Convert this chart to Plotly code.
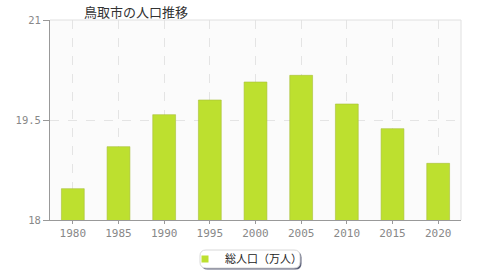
import plotly.graph_objects as go

years = ["1980", "1985", "1990", "1995", "2000", "2005", "2010", "2015", "2020"]
population = [18.47, 19.10, 19.58, 19.80, 20.07, 20.17, 19.74, 19.37, 18.85]
series_name = "総人口（万人）"
title_text = "鳥取市の人口推移"
y_ticks = [18, 19.5, 21]

W, H = 480, 280
L, R, T, B = 50, 19, 20, 60
PW, PH = W - L - R, H - T - B

def px(x):
    return (x - L) / PW

def py(y):
    return (H - B - y) / PH

def rrect(x0, y0, x1, y1, r):
    return (f"M{px(x0+r)},{py(y0)} L{px(x1-r)},{py(y0)} Q{px(x1)},{py(y0)} {px(x1)},{py(y0+r)} "
            f"L{px(x1)},{py(y1-r)} Q{px(x1)},{py(y1)} {px(x1-r)},{py(y1)} "
            f"L{px(x0+r)},{py(y1)} Q{px(x0)},{py(y1)} {px(x0)},{py(y1-r)} "
            f"L{px(x0)},{py(y0+r)} Q{px(x0)},{py(y0)} {px(x0+r)},{py(y0)} Z")

fig = go.Figure()
fig.add_trace(go.Bar(
    x=years, y=population, name=series_name, showlegend=False,
    marker=dict(color="#bde02f", line=dict(color="#a9bf3a", width=0.6)),
    width=0.5,
))
# legend entry with a small square swatch
fig.add_trace(go.Scatter(
    x=[None], y=[None], mode="markers", name=series_name,
    marker=dict(symbol="square", size=7, color="#bde02f"),
))

shapes = [
    dict(type="path", xref="paper", yref="paper", path=rrect(201.5, 251.5, 301.5, 269.5, 6),
         fillcolor="#5a5f78", line=dict(width=0), layer="below"),
    dict(type="path", xref="paper", yref="paper", path=rrect(200, 250, 300, 268, 6),
         fillcolor="white", line=dict(color="#d8d8d8", width=1), layer="below"),
]

fig.update_layout(
    width=W, height=H,
    margin=dict(l=L, r=R, t=T, b=B, autoexpand=False),
    paper_bgcolor="white",
    plot_bgcolor="#fbfbfb",
    font=dict(family="DejaVu Sans, Noto Sans CJK JP", size=11, color="#888"),
    showlegend=True,
    legend=dict(orientation="h", xref="container", yref="container",
                x=246 / W, xanchor="center", y=(H - 259) / H, yanchor="middle",
                bgcolor="rgba(0,0,0,0)", font=dict(size=11, color="#222", family="Noto Sans CJK JP"),
                itemwidth=30),
    shapes=shapes,
    annotations=[dict(text=title_text, xref="paper", yref="paper", x=px(82), y=py(12),
                      xanchor="left", yanchor="middle", showarrow=False,
                      font=dict(size=13, color="#333", family="Noto Sans CJK JP"))],
    xaxis=dict(
        type="category", range=[-0.5, len(years) - 0.5],
        showgrid=True, gridcolor="#e4e4e4", griddash="dash", gridwidth=1,
        showline=True, linecolor="#999", linewidth=1, mirror=False,
        ticks="outside", ticklen=3, tickcolor="#999",
        tickfont=dict(size=11, color="#888", family="DejaVu Sans Mono"),
        zeroline=False,
    ),
    yaxis=dict(
        range=[18, 21], tickvals=y_ticks, ticktext=[str(v) for v in y_ticks],
        showgrid=True, gridcolor="#e4e4e4", griddash="dash", gridwidth=1,
        showline=True, linecolor="#999", linewidth=1,
        ticks="outside", ticklen=6, tickcolor="#999",
        tickfont=dict(size=10.5, color="#888", family="DejaVu Sans Mono"),
        zeroline=False,
    ),
)

# light border on top and right of plot area
fig.add_shape(type="line", xref="paper", yref="paper", x0=0, x1=1, y0=1, y1=1,
              line=dict(color="#e0e0e0", width=1))
fig.add_shape(type="line", xref="paper", yref="paper", x0=1, x1=1, y0=0, y1=1,
              line=dict(color="#e0e0e0", width=1))

fig.write_html("out.html")
